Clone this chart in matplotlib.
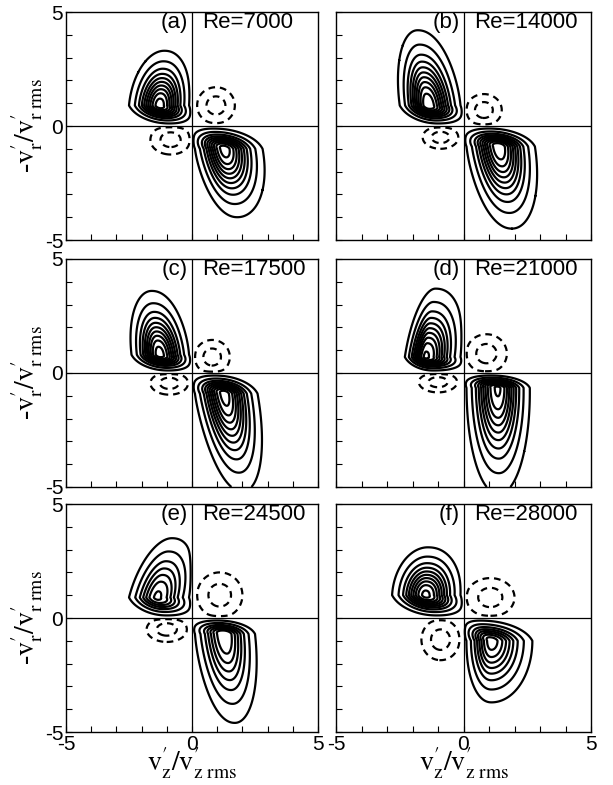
import numpy as np
import matplotlib.pyplot as plt

plt.rcParams['font.family'] = ['Liberation Sans', 'DejaVu Sans']
plt.rcParams['mathtext.fontset'] = 'stix'

re_numbers = [7000, 14000, 17500, 21000, 24500, 28000]
tags = ['(a)', '(b)', '(c)', '(d)', '(e)', '(f)']

# solid lobe in 2nd quadrant: peak, furthest reach in x and y, x of the upper tip
q2_peak_x = [-1.3, -1.4, -1.3, -1.5, -1.4, -1.5]
q2_peak_y = [0.9, 0.9, 0.8, 0.7, 0.9, 1.0]
q2_far_x = [-2.5, -2.5, -2.4, -2.3, -2.5, -2.8]
q2_far_y = [3.3, 4.2, 3.6, 3.7, 3.5, 3.1]
q2_tip_x = [-1.1, -1.8, -1.6, -1.1, -0.8, -1.4]
q2_amp = [0.95, 0.98, 0.95, 0.92, 0.62, 0.93]

# solid lobe in 4th quadrant
q4_peak_x = [1.3, 1.4, 1.3, 1.35, 1.3, 1.1]
q4_peak_y = [-1.0, -0.9, -0.9, -0.65, -0.7, -1.0]
q4_far_x = [2.8, 2.8, 2.6, 2.6, 2.5, 2.7]
q4_far_y = [-4.0, -4.5, -5.2, -5.3, -4.6, -3.7]
q4_tip_x = [1.8, 1.9, 2.0, 1.4, 1.7, 1.1]
q4_amp = [0.95, 0.98, 0.95, 0.92, 0.7, 0.75]

# dashed lobe in 1st quadrant: centre and half extent of outer contour
q1_cx = [0.95, 0.8, 0.8, 0.9, 1.1, 1.05]
q1_cy = [0.9, 0.7, 0.7, 0.85, 1.0, 0.9]
q1_rx = [0.75, 0.7, 0.7, 0.8, 0.9, 0.95]
q1_ry = [0.8, 0.7, 0.75, 0.85, 1.0, 0.85]

# dashed lobe in 3rd quadrant
q3_cx = [-0.85, -0.9, -0.9, -1.0, -1.0, -0.9]
q3_cy = [-0.6, -0.5, -0.45, -0.4, -0.5, -0.95]
q3_rx = [0.8, 0.7, 0.75, 0.75, 0.8, 0.75]
q3_ry = [0.65, 0.5, 0.5, 0.45, 0.55, 0.9]

pos_levels = [0.03, 0.1, 0.2, 0.3, 0.4, 0.5, 0.6, 0.7, 0.8, 0.9]
neg_levels = [-0.085, -0.03]

x = np.linspace(-5, 5, 501)
X, Y = np.meshgrid(x, x)
gap = 0.1


def edge(v):
    return np.clip(1 - np.exp(-v / 0.05), 0, None)


def lobe(px, py, fx, fy, tx, amp):
    u = np.sign(px) * X
    w = np.sign(py) * Y
    px, py, fx, fy, tx = abs(px), abs(py), abs(fx), abs(fy), abs(tx)
    r0 = np.sqrt(2 * np.log(amp / pos_levels[0]))
    t = (tx - px) / (fy - py)
    shift = np.where(w > py, t * (w - py), -0.5 * (py - w))
    du = u - (px + shift)
    dw = w - py
    qa = np.where(du > 0, (du * r0 / (fx - px)) ** 2,
                  np.abs(du / (px - gap)) ** 2.2 * r0 ** 2)
    qb = np.where(dw > 0, (dw * r0 / (fy - py)) ** 2,
                  np.abs(dw / (py - gap)) ** 2.2 * r0 ** 2)
    f = amp * np.exp(-0.5 * (qa + qb)) * edge(u) * edge(w)
    return np.where((u > 0) & (w > 0), f, 0.0)


def dip(cx, cy, rx, ry):
    amp = 0.12
    r0 = np.sqrt(2 * np.log(amp / abs(neg_levels[-1])))
    u = np.sign(cx) * X
    w = np.sign(cy) * Y
    g = np.exp(-0.5 * (((X - cx) / (rx / r0)) ** 2 + ((Y - cy) / (ry / r0)) ** 2))
    return -amp * g * edge(u) * edge(w)


fig = plt.figure(figsize=(6.13, 7.85), dpi=100)
lefts = [66 / 613, 336 / 613]
widths = [252 / 613, 255 / 613]
bottoms = [545 / 785, 298 / 785, 53 / 785]
height = 228 / 785

ylab = r"-$\mathrm{v_r^{\prime}/v_{r\ rms}^{\prime}}$"
xlab = r"$\mathrm{v_z^{\prime}/v_{z\ rms}^{\prime}}$"

for i in range(6):
    row, col = divmod(i, 2)
    ax = fig.add_axes([lefts[col], bottoms[row], widths[col], height])
    pos = lobe(q2_peak_x[i], q2_peak_y[i], q2_far_x[i], q2_far_y[i], q2_tip_x[i], q2_amp[i]) \
        + lobe(q4_peak_x[i], q4_peak_y[i], q4_far_x[i], q4_far_y[i], q4_tip_x[i], q4_amp[i])
    neg = dip(q1_cx[i], q1_cy[i], q1_rx[i], q1_ry[i]) + dip(q3_cx[i], q3_cy[i], q3_rx[i], q3_ry[i])
    ax.contour(X, Y, pos, levels=pos_levels, colors='black', linewidths=1.6,
               linestyles='solid')
    ax.contour(X, Y, neg, levels=neg_levels, colors='black', linewidths=1.6,
               linestyles=[(0, (3, 2.2))])
    ax.axhline(0, color='black', lw=0.9)
    ax.axvline(0, color='black', lw=0.9)
    ax.set_xlim(-5, 5)
    ax.set_ylim(-5, 5)
    ax.set_xticks(range(-5, 6))
    ax.set_yticks(range(-5, 6))
    ticklab = ['' if v not in (-5, 0, 5) else str(v) for v in range(-5, 6)]
    ax.set_xticklabels(ticklab if row == 2 else [])
    ax.set_yticklabels(ticklab if col == 0 else [])
    ax.tick_params(direction='in', length=4, width=0.8, labelsize=15, pad=2,
                   top=False, right=False)
    for s in ax.spines.values():
        s.set_linewidth(1.0)
    ax.text(-0.15, 4.52, tags[i], ha='right', va='center', fontsize=16)
    ax.text(0.42, 4.52, 'Re=%d' % re_numbers[i], ha='left', va='center', fontsize=16)
    if col == 0:
        ax.set_ylabel(ylab, fontsize=20, fontfamily='Liberation Serif')
        ax.yaxis.set_label_coords(-0.085, 0.5)
    if row == 2:
        ax.set_xlabel(xlab, fontsize=20, fontfamily='Liberation Serif')
        ax.xaxis.set_label_coords(0.5, -0.06)
        ax.xaxis.label.set_va('top')

fig.savefig('out.png', dpi=100)
